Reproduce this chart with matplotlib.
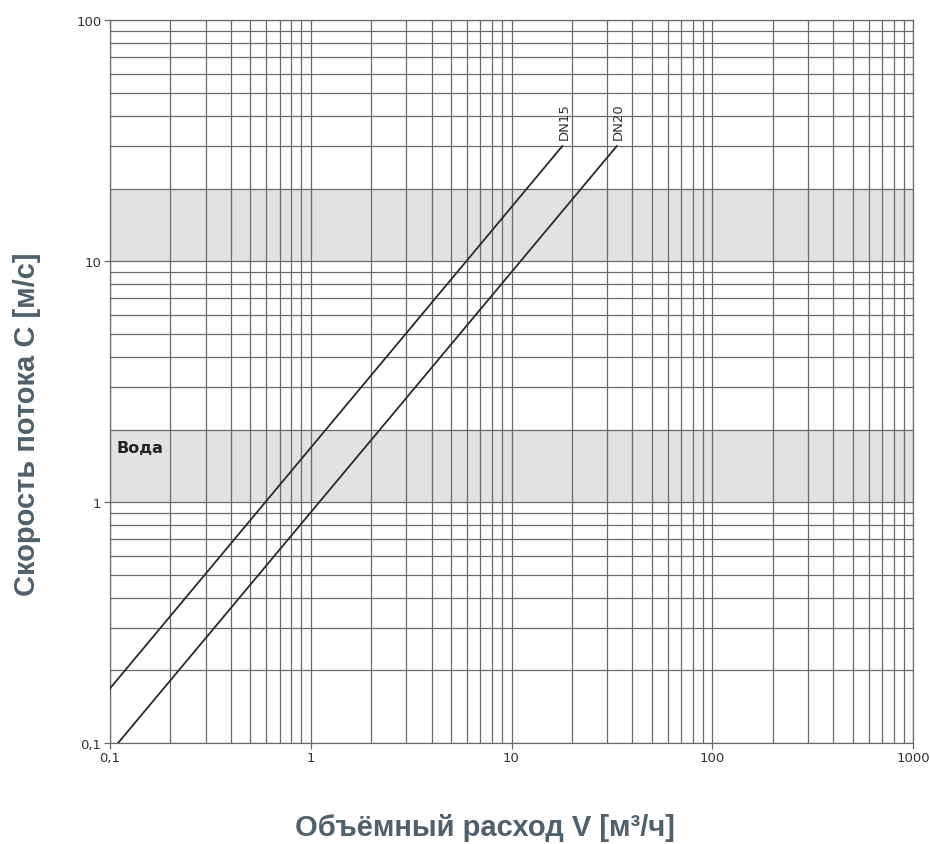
import numpy as np
import matplotlib
matplotlib.use('Agg')
import matplotlib.pyplot as plt
from matplotlib.ticker import LogLocator, FixedLocator, NullFormatter

# --- Dados ---
dn15_q = [0.1, 17.9]
dn15_v = [0.168, 30]
dn20_q = [0.11, 33.4]
dn20_v = [0.1, 30]
faixas = [(1, 2), (10, 20)]   # faixas cinza (velocidade)
x_ticks = [0.1, 1, 10, 100, 1000]
x_labels = ['0,1', '1', '10', '100', '1000']
y_ticks = [0.1, 1, 10, 100]
y_labels = ['0,1', '1', '10', '100']

COR_GRADE = '#6a6a6a'
COR_TITULO = '#4e616c'

fig = plt.figure(figsize=(9.3, 8.45), dpi=100)
ax = fig.add_axes([0.118, 0.1195, 0.864, 0.8555])
ax.set_xscale('log')
ax.set_yscale('log')
ax.set_xlim(0.1, 1000)
ax.set_ylim(0.1, 100)

for y0, y1 in faixas:
    ax.axhspan(y0, y1, color='#e2e2e2', zorder=0, lw=0)

ax.xaxis.set_major_locator(FixedLocator(x_ticks))
ax.yaxis.set_major_locator(FixedLocator(y_ticks))
ax.xaxis.set_minor_locator(LogLocator(base=10, subs=np.arange(2, 10)))
ax.yaxis.set_minor_locator(LogLocator(base=10, subs=np.arange(2, 10)))
ax.xaxis.set_minor_formatter(NullFormatter())
ax.yaxis.set_minor_formatter(NullFormatter())
ax.set_xticklabels(x_labels)
ax.set_yticklabels(y_labels)

ax.grid(which='both', color=COR_GRADE, linewidth=0.9, zorder=1)
ax.set_axisbelow(True)
ax.tick_params(which='major', length=4, width=0.9, color=COR_GRADE,
               labelsize=9.5, labelcolor='#333333', pad=2)
ax.tick_params(which='minor', length=0)
for s in ax.spines.values():
    s.set_color(COR_GRADE)
    s.set_linewidth(0.9)

ax.plot(dn15_q, dn15_v, color='#2a2a2a', lw=1.3, zorder=3)
ax.plot(dn20_q, dn20_v, color='#2a2a2a', lw=1.3, zorder=3)
ax.text(dn15_q[-1] * 1.02, 32, 'DN15', rotation=90, ha='center', va='bottom',
        fontsize=9.5, color='#333333')
ax.text(dn20_q[-1] * 1.02, 32, 'DN20', rotation=90, ha='center', va='bottom',
        fontsize=9.5, color='#333333')
ax.text(0.108, 1.62, 'Вода', fontsize=11.5, fontweight='bold', color='#222222')

fig.text(0.521, 0.011, 'Объёмный расход V [м³/ч]', ha='center', va='baseline',
         fontsize=21, fontweight='bold', color=COR_TITULO, family='Liberation Sans')
fig.text(0.029, 0.498, 'Скорость потока C [м/с]', ha='center', va='center', rotation=90,
         fontsize=21, fontweight='bold', color=COR_TITULO, family='Liberation Sans')

plt.savefig('out.png', dpi=100)
plt.close()
